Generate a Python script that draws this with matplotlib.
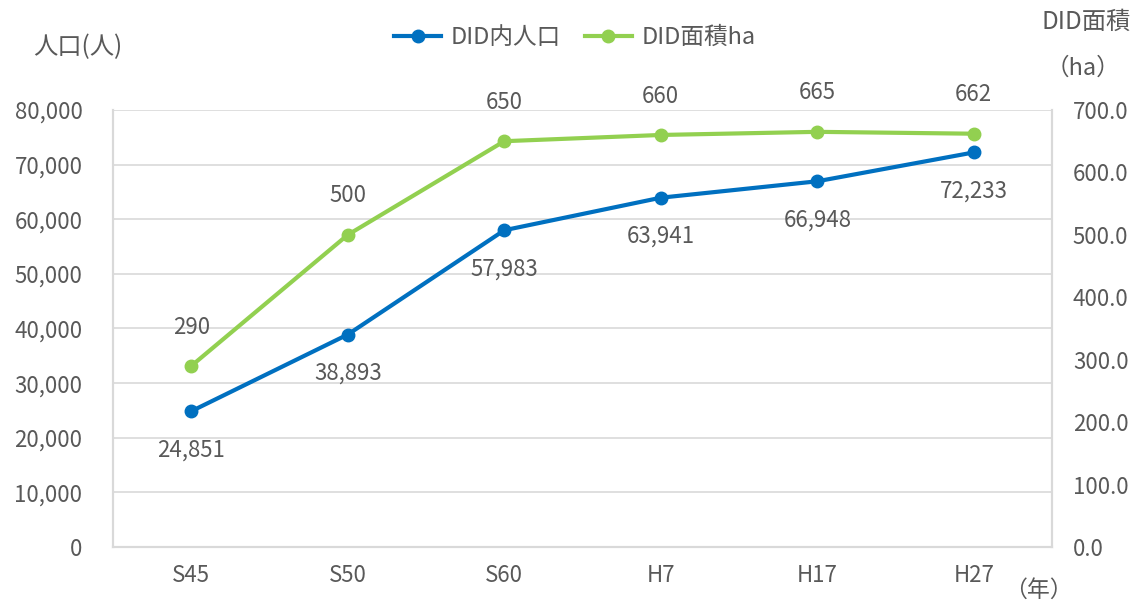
import matplotlib.pyplot as plt
from matplotlib.ticker import FuncFormatter

plt.rcParams['font.family'] = ['Noto Sans CJK JP', 'DejaVu Sans']

# data
years = ["S45", "S50", "S60", "H7", "H17", "H27"]
population = [24851, 38893, 57983, 63941, 66948, 72233]
area_ha = [290, 500, 650, 660, 665, 662]

blue = "#0070C0"
green = "#92D050"
text_col = "#595959"
grid_col = "#D9D9D9"
fs = 16

fig = plt.figure(figsize=(11.45, 6.04), dpi=100)
ax = fig.add_axes([0.0987, 0.0944, 0.8201, 0.7235])
ax2 = ax.twinx()

x = list(range(len(years)))
l1, = ax.plot(x, population, color=blue, lw=3, marker="o", ms=9, label="DID内人口", zorder=3)
l2, = ax2.plot(x, area_ha, color=green, lw=3, marker="o", ms=9, label="DID面積ha", zorder=3)

ax.set_xlim(-0.5, 5.5)
ax.set_ylim(0, 80000)
ax2.set_ylim(0, 700)
ax.set_yticks(range(0, 80001, 10000))
ax2.set_yticks(range(0, 701, 100))
ax.yaxis.set_major_formatter(FuncFormatter(lambda v, p: f"{int(v):,}"))
ax2.yaxis.set_major_formatter(FuncFormatter(lambda v, p: f"{v:.1f}"))
ax.set_xticks(x)
ax.set_xticklabels(years)

ax.grid(axis="y", color=grid_col, lw=1.2)
ax.set_axisbelow(True)
for a in (ax, ax2):
    for s in a.spines.values():
        s.set_color(grid_col)
        s.set_linewidth(1.5)
    a.spines["top"].set_visible(False)
    a.tick_params(length=0, labelsize=fs, colors=text_col)
ax.tick_params(axis="x", pad=12)
ax.tick_params(axis="y", pad=22)
ax2.tick_params(axis="y", pad=15)

for xi, v in zip(x, population):
    ax.annotate(f"{v:,}", (xi, v), xytext=(0, -28), textcoords="offset points",
                ha="center", va="center", fontsize=fs, color=text_col)
for xi, v in zip(x, area_ha):
    ax2.annotate(f"{v}", (xi, v), xytext=(0, 28), textcoords="offset points",
                 ha="center", va="center", fontsize=fs, color=text_col)

fig.text(0.068, 0.922, "人口(人)", fontsize=17.5, color=text_col, ha="center", va="center")
fig.text(0.949, 0.964, "DID面積", fontsize=17.5, color=text_col, ha="center", va="center")
fig.text(0.946, 0.887, "（ha）", fontsize=17, color=text_col, ha="center", va="center")
fig.text(0.907, 0.023, "（年）", fontsize=16.5, color=text_col, ha="center", va="center")

fig.legend(handles=[l1, l2], loc="center", bbox_to_anchor=(0.502, 0.938), ncol=2,
           frameon=False, fontsize=17, labelcolor=text_col, handlelength=2.0,
           columnspacing=1.0, handletextpad=0.4)

fig.savefig("out.png", dpi=100)
